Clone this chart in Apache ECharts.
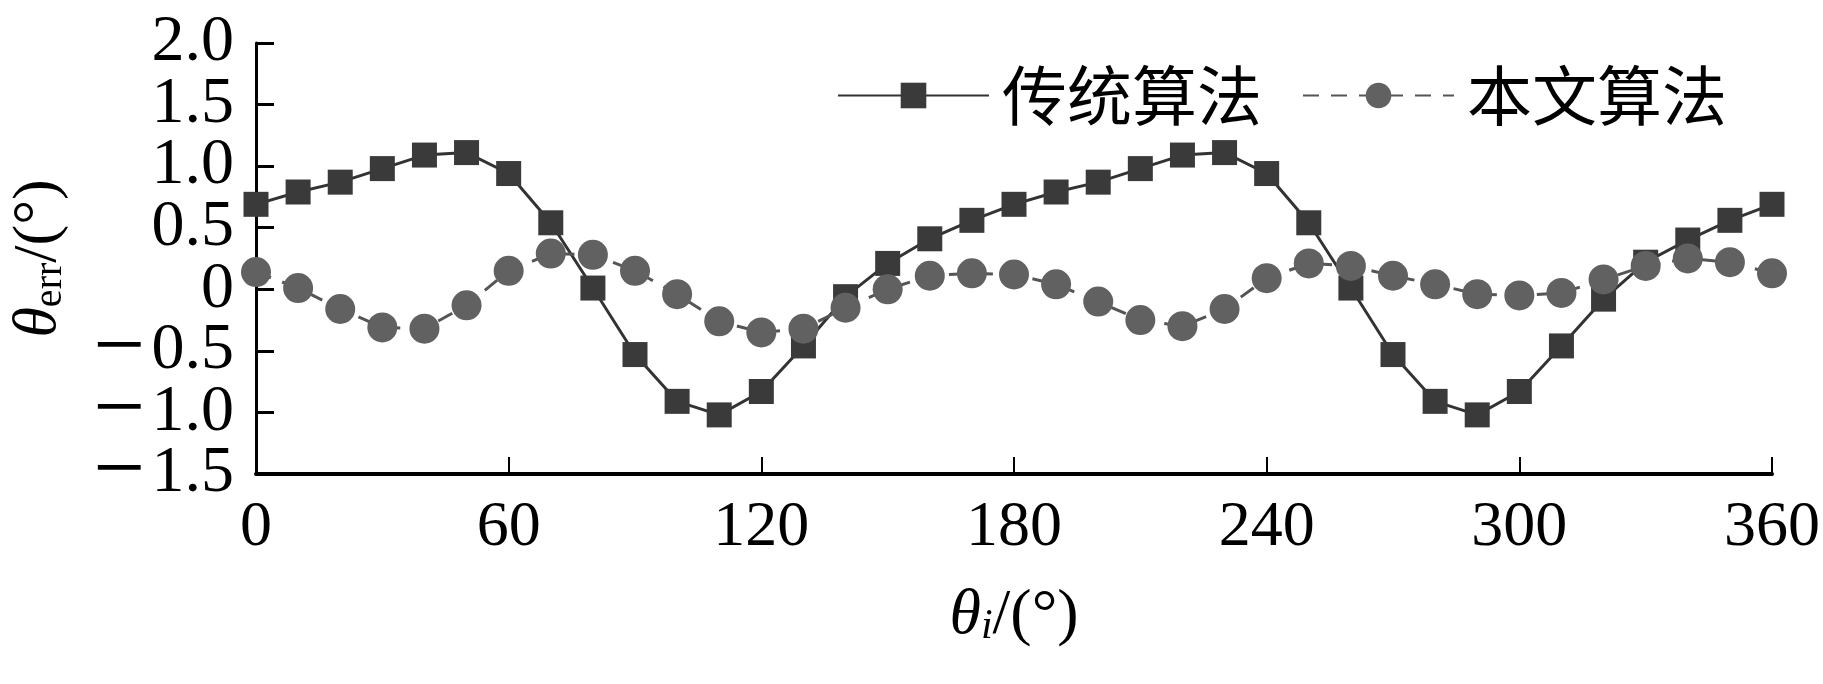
<!DOCTYPE html>
<html>
<head>
<meta charset="utf-8">
<script src="https://cdn.jsdelivr.net/npm/echarts@6/dist/echarts.min.js"></script>
<style>
  html, body { margin: 0; padding: 0; background: #fff; }
  #main { width: 1823px; height: 684px; }
</style>
</head>
<body>
<div id="main"></div>
<script>
// 输入角度 θi (°)
let angles = [
  0, 10, 20, 30, 40, 50, 60, 70, 80, 90,
  100, 110, 120, 130, 140, 150, 160, 170, 180, 190,
  200, 210, 220, 230, 240, 250, 260, 270, 280, 290,
  300, 310, 320, 330, 340, 350, 360,
];
// 传统算法误差
let oldErr = [
  0.69, 0.79, 0.87, 0.98, 1.09, 1.11, 0.94, 0.54, 0.01, -0.53,
  -0.91, -1.02, -0.83, -0.46, -0.06, 0.21, 0.41, 0.56, 0.69, 0.79,
  0.87, 0.98, 1.09, 1.11, 0.94, 0.54, 0.01, -0.53, -0.91, -1.02,
  -0.83, -0.46, -0.08, 0.22, 0.40, 0.56, 0.69,
];
// 本文算法误差
let newErr = [
  0.14, 0.01, -0.16, -0.31, -0.32, -0.13, 0.15, 0.29, 0.28, 0.15,
  -0.04, -0.26, -0.35, -0.32, -0.15, 0.0, 0.11, 0.13, 0.12, 0.04,
  -0.10, -0.25, -0.30, -0.16, 0.09, 0.21, 0.19, 0.11, 0.04, -0.04,
  -0.05, -0.03, 0.08, 0.19, 0.25, 0.22, 0.13,
];
let seriesNames = ["传统算法", "本文算法"];
// y 轴刻度，标签分两组画，避免相邻标签被自动隐藏
let yTicks = [-1.5, -1, -0.5, 0, 0.5, 1, 1.5, 2];
let yLabelsA = [-1.5, -0.5, 0.5, 1.5];
let yLabelsB = [-1, 0, 1, 2];

function pairs(ys) {
  return angles.map(function (a, i) {
    return [a, ys[i]];
  });
}

let serif = "Liberation Serif";
let cjk = "Noto Sans CJK SC";

function yLabelFmt(v) {
  if (v === 0) return "0";
  if (v < 0) return "{m|−}" + (-v).toFixed(1);
  return v.toFixed(1);
}

function yAxisBase(labels) {
  return {
    type: "value",
    position: "left",
    min: -1.5,
    max: 2,
    interval: 0.5,
    splitLine: { show: false },
    axisLine: { show: false, onZero: false },
    axisTick: { show: false },
    axisLabel: {
      margin: 22,
      customValues: labels,
      fontFamily: serif,
      fontSize: 66,
      color: "#000",
      showMinLabel: true,
      showMaxLabel: true,
      formatter: yLabelFmt,
      rich: {
        m: { fontFamily: serif, fontSize: 92, color: "#000", padding: [0, 6, 0, 0] },
      },
    },
  };
}

let yMain = yAxisBase(yLabelsA);
yMain.name = "{t|θ}{s|err}{n|/(°)}";
yMain.nameLocation = "middle";
yMain.nameRotate = 90;
yMain.nameGap = 186;
yMain.nameTextStyle = {
  rich: {
    t: { fontFamily: serif, fontStyle: "italic", fontSize: 62, color: "#000" },
    s: { fontFamily: serif, fontSize: 40, color: "#000", verticalAlign: "bottom", padding: [22, 0, 0, 0] },
    n: { fontFamily: serif, fontSize: 62, color: "#000" },
  },
};
yMain.axisLine = { show: true, onZero: false, lineStyle: { color: "#000", width: 3 } };
yMain.axisTick = {
  show: true,
  inside: true,
  length: 18,
  customValues: yTicks,
  lineStyle: { color: "#000", width: 3 },
};
let ySecond = yAxisBase(yLabelsB);

let chart = echarts.init(document.getElementById("main"));
let option = {
  animation: false,
  backgroundColor: "#fff",
  grid: {
    left: 253,
    right: 48,
    top: 43,
    bottom: 210,
    containLabel: false,
  },
  legend: {
    right: 91,
    top: 58,
    itemWidth: 151,
    itemHeight: 32,
    itemGap: 40,
    textStyle: {
      fontFamily: cjk,
      fontSize: 65,
      color: "#000",
      padding: [0, 0, 0, 8],
    },
    data: seriesNames,
  },
  xAxis: {
    type: "value",
    min: 0,
    max: 360,
    interval: 60,
    name: "{t|θ}{s|i}{n|/(°)}",
    nameLocation: "middle",
    nameGap: 110,
    nameTextStyle: {
      rich: {
        t: { fontFamily: serif, fontStyle: "italic", fontSize: 64, color: "#000" },
        s: { fontFamily: serif, fontStyle: "italic", fontSize: 42, color: "#000", verticalAlign: "bottom", padding: [22, 0, 0, 0] },
        n: { fontFamily: serif, fontSize: 64, color: "#000" },
      },
    },
    splitLine: { show: false },
    axisLine: { onZero: false, lineStyle: { color: "#000", width: 4 } },
    axisTick: { inside: true, length: 17, lineStyle: { color: "#000", width: 2 } },
    axisLabel: {
      margin: 22,
      fontFamily: serif,
      fontSize: 64,
      color: "#000",
      showMinLabel: true,
      showMaxLabel: true,
    },
  },
  yAxis: [yMain, ySecond],
  series: [
    {
      name: seriesNames[0],
      type: "line",
      yAxisIndex: 0,
      data: pairs(oldErr),
      symbol: "rect",
      symbolSize: 25,
      itemStyle: { color: "#3a3a3a" },
      lineStyle: { color: "#333", width: 3, type: "solid" },
    },
    {
      name: seriesNames[1],
      type: "line",
      yAxisIndex: 0,
      data: pairs(newErr),
      symbol: "circle",
      symbolSize: 30,
      itemStyle: { color: "#616161" },
      lineStyle: { color: "#555", width: 3, type: [16, 12] },
    },
  ],
};
chart.setOption(option);
</script>
</body>
</html>
